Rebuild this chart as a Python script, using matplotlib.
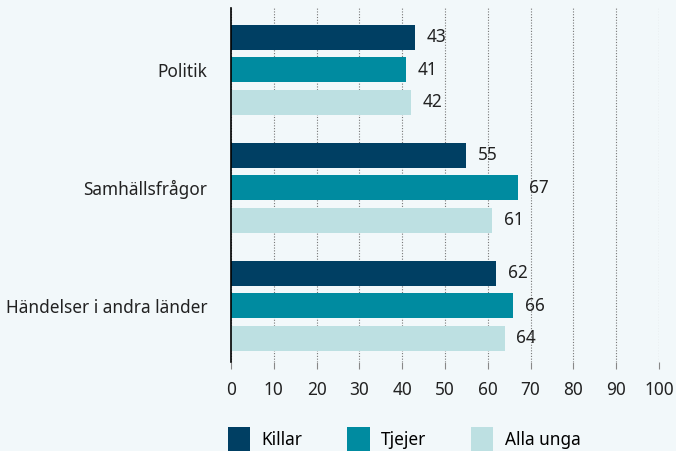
import matplotlib.pyplot as plt
import numpy as np
from matplotlib.patches import Patch

plt.rcParams["font.family"] = ["Noto Sans", "DejaVu Sans"]

categories = ["Politik", "Samhällsfrågor", "Händelser i andra länder"]
series = ["Killar", "Tjejer", "Alla unga"]
killar = [43, 55, 62]
tjejer = [41, 67, 66]
alla_unga = [42, 61, 64]
colors = ["#003f63", "#008ba0", "#bde0e2"]
xticks = list(range(0, 101, 10))

BG = "#f2f8fa"
FS = 12.4

fig = plt.figure(figsize=(6.76, 4.51), dpi=100, facecolor=BG)
ax = fig.add_axes([231 / 676, 1 - 362 / 451, 428 / 676, 354 / 451])
ax.set_facecolor(BG)

y = np.arange(len(categories))
step = 0.275
height = 0.212
for i, (vals, c) in enumerate(zip([killar, tjejer, alla_unga], colors)):
    pos = y + (i - 1) * step
    ax.barh(pos, vals, height=height, color=c, zorder=3)
    for p, v in zip(pos, vals):
        ax.text(v + 2.7, p, str(v), va="center", ha="left", fontsize=FS, color="#222222")

ax.set_xlim(0, 100)
ax.set_ylim(2.475, -0.525)
ax.set_xticks(xticks)
ax.set_yticks(y)
ax.set_yticklabels(categories, fontsize=FS, color="#222222")
ax.tick_params(axis="y", length=0, pad=17)
ax.tick_params(axis="x", length=5, color="#888888", labelsize=FS, labelcolor="#222222", pad=9)
ax.grid(axis="x", linestyle=(0, (1, 1.5)), color="#777777", linewidth=0.8, zorder=0)
for s in ["top", "right", "bottom"]:
    ax.spines[s].set_visible(False)
ax.spines["left"].set_color("black")
ax.spines["left"].set_linewidth(1.2)
ax.spines["left"].set_zorder(4)

handles = [Patch(facecolor=c, label=s) for s, c in zip(series, colors)]
fig.legend(
    handles=handles,
    loc="center left",
    bbox_to_anchor=(228 / 676, 1 - 439 / 451),
    ncol=3,
    frameon=False,
    fontsize=FS,
    borderpad=0,
    borderaxespad=0,
    handlelength=1.3,
    handleheight=1.7,
    handletextpad=0.65,
    columnspacing=2.6,
)

fig.savefig("out.png", dpi=100, facecolor=BG)
